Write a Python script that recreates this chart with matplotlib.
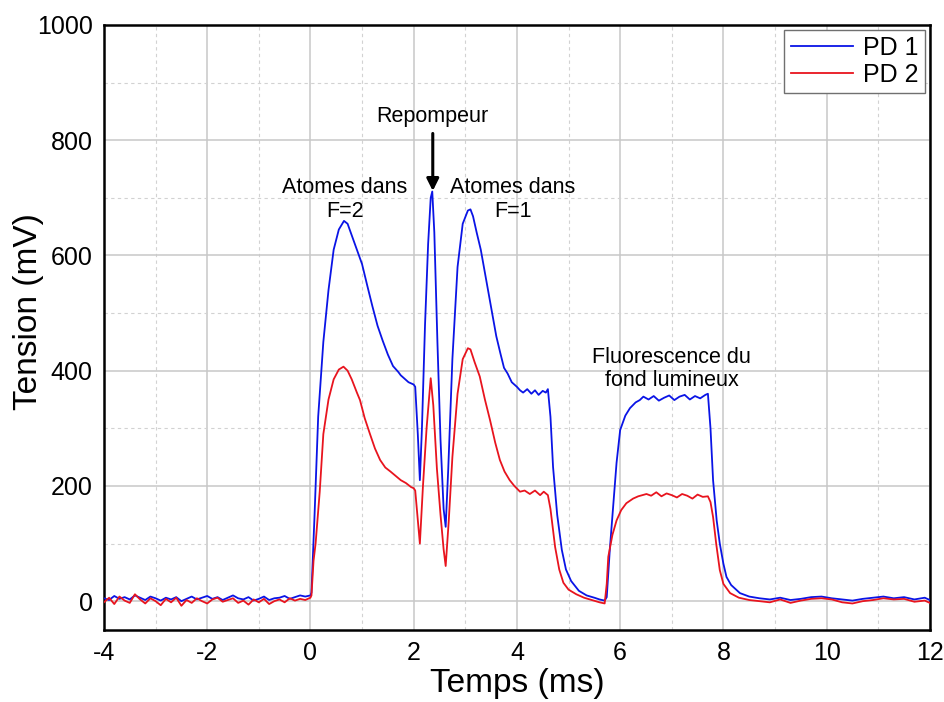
import matplotlib
matplotlib.use("Agg")
import matplotlib.pyplot as plt
from matplotlib.ticker import MultipleLocator

plt.rcParams['font.family'] = ['Liberation Sans', 'DejaVu Sans']
plt.rcParams['axes.unicode_minus'] = False

# baseline before the pulse (-4 .. 0 ms, every 0.1 ms)
t_base = [-4.0, -3.9, -3.8, -3.7, -3.6, -3.5, -3.4, -3.3, -3.2, -3.1,
          -3.0, -2.9, -2.8, -2.7, -2.6, -2.5, -2.4, -2.3, -2.2, -2.1,
          -2.0, -1.9, -1.8, -1.7, -1.6, -1.5, -1.4, -1.3, -1.2, -1.1,
          -1.0, -0.9, -0.8, -0.7, -0.6, -0.5, -0.4, -0.3, -0.2, -0.1, 0.0]
pd1_base = [5, 2, 9, 4, 7, 3, 10, 6, 2, 8, 5, 1, 6, 3, 7, 0, 4, 8, 3, 6,
            9, 4, 7, 2, 6, 10, 5, 3, 7, 1, 4, 8, 2, 5, 6, 9, 4, 7, 10, 8, 10]
pd2_base = [-2, 6, -5, 8, 1, -3, 12, 3, -4, 5, 0, -7, 4, -2, 6, -8, 2, -3, 5, 0,
            -4, 3, 6, -1, 2, 5, -3, 1, -6, 3, -2, 4, -5, 0, 3, -2, 5, 1, 4, 2, 6]

# PD 1 after t = 0
t_pd1 = [0.02, 0.08, 0.15, 0.25, 0.35, 0.45, 0.55, 0.65, 0.72, 0.8, 0.9, 1.0,
         1.1, 1.2, 1.3, 1.4, 1.5, 1.6, 1.7, 1.75, 1.8, 1.85, 1.9, 1.95, 2.0,
         2.03, 2.08, 2.12, 2.16, 2.22, 2.28, 2.33, 2.36, 2.4, 2.46, 2.52, 2.58,
         2.62, 2.67, 2.75, 2.85, 2.95, 3.05, 3.1, 3.15, 3.22, 3.3, 3.4, 3.5,
         3.6, 3.68, 3.75, 3.82, 3.9, 4.0, 4.06, 4.12, 4.2, 4.28, 4.35, 4.42,
         4.5, 4.56, 4.6, 4.65, 4.7, 4.78, 4.87, 4.95, 5.05, 5.2, 5.35, 5.5,
         5.6, 5.7, 5.74, 5.8, 5.86, 5.93, 6.0, 6.1, 6.19, 6.3, 6.38, 6.45,
         6.55, 6.65, 6.75, 6.85, 6.95, 7.05, 7.15, 7.25, 7.35, 7.45, 7.55,
         7.65, 7.7, 7.75, 7.8, 7.87, 7.93, 8.0, 8.06, 8.15, 8.32, 8.5, 8.7,
         8.9, 9.1, 9.3, 9.5, 9.7, 9.9, 10.1, 10.3, 10.5, 10.7, 10.9, 11.1,
         11.3, 11.5, 11.7, 11.9, 12.0]
v_pd1 = [15, 150, 320, 450, 540, 610, 645, 660, 655, 635, 610, 585,
         548, 512, 478, 452, 428, 408, 398, 392, 388, 384, 380, 378, 376,
         372, 290, 210, 300, 480, 620, 700, 711, 640, 450, 280, 160,
         129, 230, 420, 580, 655, 678, 680, 668, 640, 610, 560, 510,
         460, 430, 405, 395, 380, 372, 366, 362, 368, 360, 366, 358,
         365, 362, 368, 320, 233, 150, 89, 55, 35, 18, 10, 6,
         3, 1, 7, 90, 160, 240, 297, 322, 335, 345, 349, 355,
         350, 356, 348, 353, 357, 349, 355, 358, 350, 356, 352,
         358, 360, 300, 210, 140, 100, 65, 42, 28, 14, 8, 5,
         3, 6, 2, 4, 7, 8, 5, 3, 1, 4, 6, 8,
         5, 7, 3, 6, 2]

# PD 2 after t = 0
t_pd2 = [0.02, 0.06, 0.1, 0.18, 0.25, 0.35, 0.45, 0.55, 0.64, 0.72, 0.8, 0.9,
         0.96, 1.05, 1.15, 1.25, 1.35, 1.45, 1.55, 1.67, 1.75, 1.85, 1.95,
         2.0, 2.03, 2.08, 2.12, 2.18, 2.25, 2.33, 2.38, 2.45, 2.52, 2.58,
         2.62, 2.68, 2.75, 2.85, 2.95, 3.05, 3.1, 3.18, 3.28, 3.38, 3.48,
         3.58, 3.67, 3.76, 3.86, 3.95, 4.06, 4.15, 4.25, 4.35, 4.45, 4.52,
         4.6, 4.65, 4.74, 4.82, 4.9, 5.0, 5.15, 5.3, 5.45, 5.6, 5.7, 5.74,
         5.77, 5.85, 5.93, 6.02, 6.12, 6.25, 6.35, 6.51, 6.6, 6.7, 6.8, 6.9,
         7.0, 7.1, 7.2, 7.3, 7.4, 7.5, 7.6, 7.7, 7.75, 7.8, 7.86, 7.93, 8.0,
         8.13, 8.3, 8.5, 8.7, 8.9, 9.1, 9.3, 9.5, 9.7, 9.9, 10.1, 10.3, 10.5,
         10.7, 10.9, 11.1, 11.3, 11.5, 11.7, 11.9, 12.0]
v_pd2 = [10, 70, 100, 190, 290, 350, 385, 402, 407, 400, 385, 362,
         349, 318, 291, 265, 245, 232, 225, 216, 210, 205, 198,
         196, 192, 140, 100, 200, 300, 387, 340, 230, 150, 90,
         61, 140, 250, 360, 420, 439, 437, 415, 390, 350, 314,
         275, 245, 225, 210, 200, 190, 192, 186, 192, 184, 190,
         184, 160, 94, 55, 32, 20, 12, 6, 2, -2, -4, 30,
         77, 115, 140, 158, 170, 178, 182, 186, 183, 189, 182, 187,
         184, 180, 186, 183, 178, 185, 181, 182, 172, 146, 100, 54, 30,
         14, 6, 2, 0, -2, 3, -3, 1, 4, 5, 3, -2, -4,
         0, 2, 5, 3, 4, -1, 1, -3]

fig = plt.figure(figsize=(9.45, 7.02), dpi=100)
ax = fig.add_axes([0.110, 0.1026, 0.874, 0.8618])

ax.plot(t_base + t_pd1, pd1_base + v_pd1, color='#0a14e6', lw=1.3, label='PD 1', zorder=3)
ax.plot(t_base + t_pd2, pd2_base + v_pd2, color='#e8141e', lw=1.3, label='PD 2', zorder=3)

ax.set_xlim(-4, 12)
ax.set_ylim(-50, 1000)
ax.xaxis.set_major_locator(MultipleLocator(2))
ax.xaxis.set_minor_locator(MultipleLocator(1))
ax.yaxis.set_major_locator(MultipleLocator(200))
ax.yaxis.set_minor_locator(MultipleLocator(100))
ax.grid(which='major', color='#c8c8c8', lw=1.1, ls='-')
ax.grid(which='minor', color='#d2d2d2', lw=0.8, ls=(0, (3, 3)))
ax.set_axisbelow(True)
ax.tick_params(which='both', length=0, labelsize=18, pad=8)
for s in ax.spines.values():
    s.set_linewidth(1.8)
    s.set_color('black')

ax.set_xlabel('Temps (ms)', fontsize=24, labelpad=2)
ax.set_ylabel('Tension (mV)', fontsize=24)
ax.yaxis.set_label_coords(-0.073, 0.526)

ax.text(0.67, 697, 'Atomes dans\nF=2', ha='center', va='center', fontsize=15.5, linespacing=1.15)
ax.text(3.92, 697, 'Atomes dans\nF=1', ha='center', va='center', fontsize=15.5, linespacing=1.15)
ax.text(7.0, 403, 'Fluorescence du\nfond lumineux', ha='center', va='center', fontsize=15.5, linespacing=1.15)
ax.annotate('Repompeur', xy=(2.37, 712), xytext=(2.37, 842), ha='center', va='center',
            fontsize=15.5,
            arrowprops=dict(arrowstyle='-|>', color='black', lw=2.2, mutation_scale=18,
                            shrinkA=3, shrinkB=0))

leg = ax.legend(loc='upper right', fontsize=18, handlelength=2.5, fancybox=False,
                edgecolor='#707070', framealpha=1, borderpad=0.25, labelspacing=0.1,
                handletextpad=0.4, borderaxespad=0.2)
leg.get_frame().set_linewidth(1.0)

fig.savefig('out.png', dpi=100)
